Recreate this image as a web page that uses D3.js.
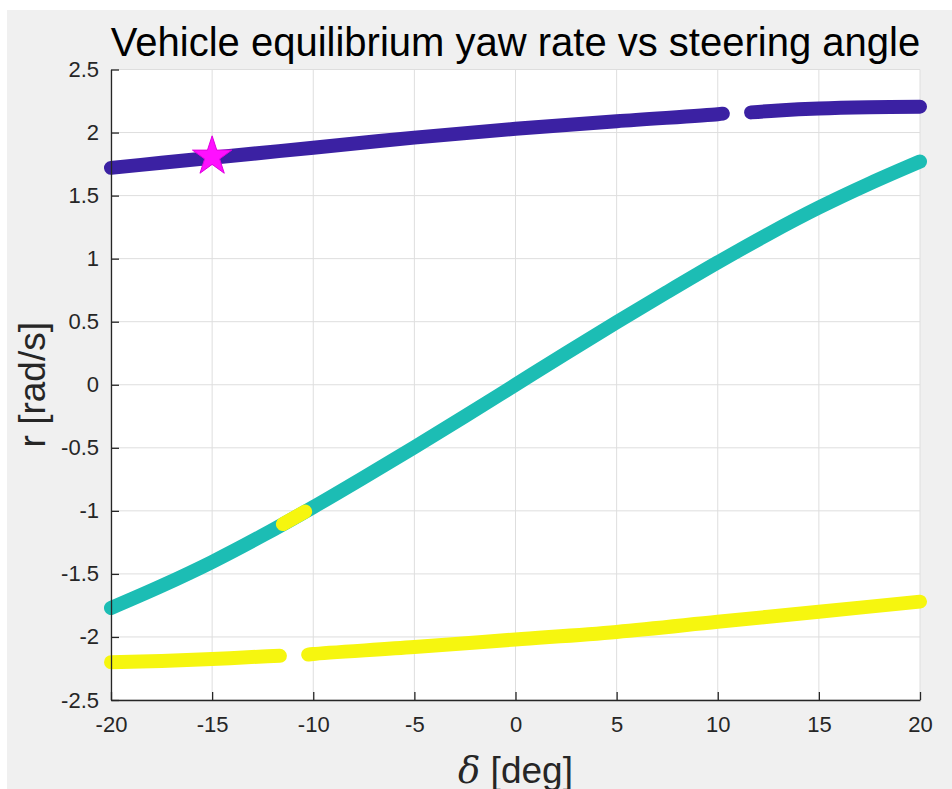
<!DOCTYPE html>
<html>
<head>
<meta charset="utf-8">
<script src="https://cdn.jsdelivr.net/npm/d3@7"></script>
<style>
	body { margin: 0; background: #ffffff; }
	text { font-family: "Liberation Sans", Arial, Helvetica, sans-serif; }
</style>
</head>
<body>
<svg id="chart" width="952" height="789"></svg>
<script>
//tick values and their labels (matlab style, plain hyphen for minus)
var xTicks = [-20, -15, -10, -5, 0, 5, 10, 15, 20];
var xTickLabels = ["-20", "-15", "-10", "-5", "0", "5", "10", "15", "20"];
var yTicks = [-2.5, -2, -1.5, -1, -0.5, 0, 0.5, 1, 1.5, 2, 2.5];
var yTickLabels = ["-2.5", "-2", "-1.5", "-1", "-0.5", "0", "0.5", "1", "1.5", "2", "2.5"];

//upper branch (purple), split where the solver lost it
var upperDeltaA = [-20, -17.5, -15, -12.5, -10, -5, 0, 5, 10, 10.25];
var upperRA = [1.72, 1.76, 1.80, 1.84, 1.88, 1.96, 2.03, 2.09, 2.145, 2.15];
var upperDeltaB = [11.65, 13, 15, 17.5, 20];
var upperRB = [2.16, 2.175, 2.19, 2.20, 2.205];

//middle branch (teal)
var midDelta = [-20, -17.5, -15, -12.5, -10, -7.5, -5, -2.5, 0, 2.5, 5, 7.5, 10, 12.5, 15, 17.5, 20];
var midR = [-1.77, -1.595, -1.405, -1.195, -0.97, -0.735, -0.495, -0.25, 0, 0.25, 0.495, 0.735, 0.97, 1.195, 1.405, 1.595, 1.77];

//short piece of the middle branch flagged yellow
var midYellowDelta = [-11.5, -10.4];
var midYellowR = [-1.105, -1.006];

//lower branch (yellow), split too
var lowerDeltaA = [-20, -17.5, -15, -12.5, -11.65];
var lowerRA = [-2.20, -2.19, -2.175, -2.155, -2.15];
var lowerDeltaB = [-10.25, -10, -5, 0, 5, 10, 15, 20];
var lowerRB = [-2.14, -2.135, -2.08, -2.02, -1.96, -1.88, -1.80, -1.72];

//operating point marker
var starDelta = [-15];
var starR = [1.81];

var svg = d3.select("#chart");

//figure background, grey like matlab
svg.append("rect")
	.attr("x", 7)
	.attr("y", 10)
	.attr("width", 945)
	.attr("height", 779)
	.style("fill", "#f0f0f0");

//plot box edges (dont call these top/left, window.top is taken)
var pLeft = 111, pRight = 920, pTop = 69.5, pBottom = 700;

var x = d3.scaleLinear().domain([-20, 20]).range([pLeft, pRight]);
var y = d3.scaleLinear().domain([-2.5, 2.5]).range([pBottom, pTop]);

//white axes box
svg.append("rect")
	.attr("x", pLeft)
	.attr("y", pTop)
	.attr("width", pRight - pLeft)
	.attr("height", pBottom - pTop)
	.style("fill", "#ffffff");

//grid lines
svg.append("g")
	.selectAll("line")
	.data(xTicks)
	.enter().append("line")
	.attr("x1", function(d) { return x(d); })
	.attr("x2", function(d) { return x(d); })
	.attr("y1", pTop)
	.attr("y2", pBottom)
	.style("stroke", "#dedede")
	.style("stroke-width", 1);

svg.append("g")
	.selectAll("line")
	.data(yTicks)
	.enter().append("line")
	.attr("x1", pLeft)
	.attr("x2", pRight)
	.attr("y1", function(d) { return y(d); })
	.attr("y2", function(d) { return y(d); })
	.style("stroke", "#dedede")
	.style("stroke-width", 1);

//curves
var line = d3.line()
	.x(function(d) { return x(d[0]); })
	.y(function(d) { return y(d[1]); })
	.curve(d3.curveCatmullRom.alpha(0.5));

function drawBranch(deltas, rs, color) {
	svg.append("path")
		.datum(d3.zip(deltas, rs))
		.attr("d", line)
		.style("fill", "none")
		.style("stroke", color)
		.style("stroke-width", 14)
		.style("stroke-linecap", "round")
		.style("stroke-linejoin", "round");
}

drawBranch(upperDeltaA, upperRA, "#3b21a3");
drawBranch(upperDeltaB, upperRB, "#3b21a3");
drawBranch(midDelta, midR, "#1cbdb4");
drawBranch(midYellowDelta, midYellowR, "#f6f60f");
drawBranch(lowerDeltaA, lowerRA, "#f6f60f");
drawBranch(lowerDeltaB, lowerRB, "#f6f60f");

//star
svg.append("g")
	.selectAll("path")
	.data(d3.zip(starDelta, starR))
	.enter().append("path")
	.attr("d", d3.symbol().type(d3.symbolStar).size(480))
	.attr("transform", function(d) { return "translate(" + x(d[0]) + "," + y(d[1]) + ")"; })
	.style("fill", "#ff10ff")
	.style("stroke", "#e000e0")
	.style("stroke-width", 1);

//axes, ticks pointing in
var xAxis = d3.axisBottom(x)
	.tickValues(xTicks)
	.tickFormat(function(d, i) { return xTickLabels[i]; })
	.tickSizeInner(-8)
	.tickSizeOuter(0)
	.tickPadding(16);

var yAxis = d3.axisLeft(y)
	.tickValues(yTicks)
	.tickFormat(function(d, i) { return yTickLabels[i]; })
	.tickSizeInner(-8)
	.tickSizeOuter(0)
	.tickPadding(12);

var gx = svg.append("g")
	.attr("transform", "translate(0," + pBottom + ")")
	.call(xAxis);

var gy = svg.append("g")
	.attr("transform", "translate(" + pLeft + ",0)")
	.call(yAxis);

[gx, gy].forEach(function(g) {
	g.select(".domain").style("stroke", "#262626").style("stroke-width", 1.3);
	g.selectAll(".tick line").style("stroke", "#262626").style("stroke-width", 1.3);
	g.selectAll(".tick text")
		.style("font-family", '"Liberation Sans", Arial, sans-serif')
		.style("font-size", "22px")
		.style("fill", "#262626");
});

//title
svg.append("text")
	.attr("x", (pLeft + pRight) / 2)
	.attr("y", 56)
	.attr("text-anchor", "middle")
	.style("font-size", "40px")
	.style("fill", "#000000")
	.text("Vehicle equilibrium yaw rate vs steering angle");

//y label
svg.append("text")
	.attr("transform", "translate(45," + ((pTop + pBottom) / 2) + ") rotate(-90)")
	.attr("text-anchor", "middle")
	.style("font-size", "37px")
	.style("fill", "#262626")
	.text("r [rad/s]");

//x label, greek delta in italic (bottom of it runs off the page, as in the original)
var xl = svg.append("text")
	.attr("x", (pLeft + pRight) / 2)
	.attr("y", 783)
	.attr("text-anchor", "middle")
	.style("font-size", "37px")
	.style("fill", "#262626");

xl.append("tspan")
	.style("font-family", '"DejaVu Serif", "Liberation Serif", serif')
	.style("font-style", "italic")
	.text("δ");

xl.append("tspan")
	.text(" [deg]");
</script>
</body>
</html>
